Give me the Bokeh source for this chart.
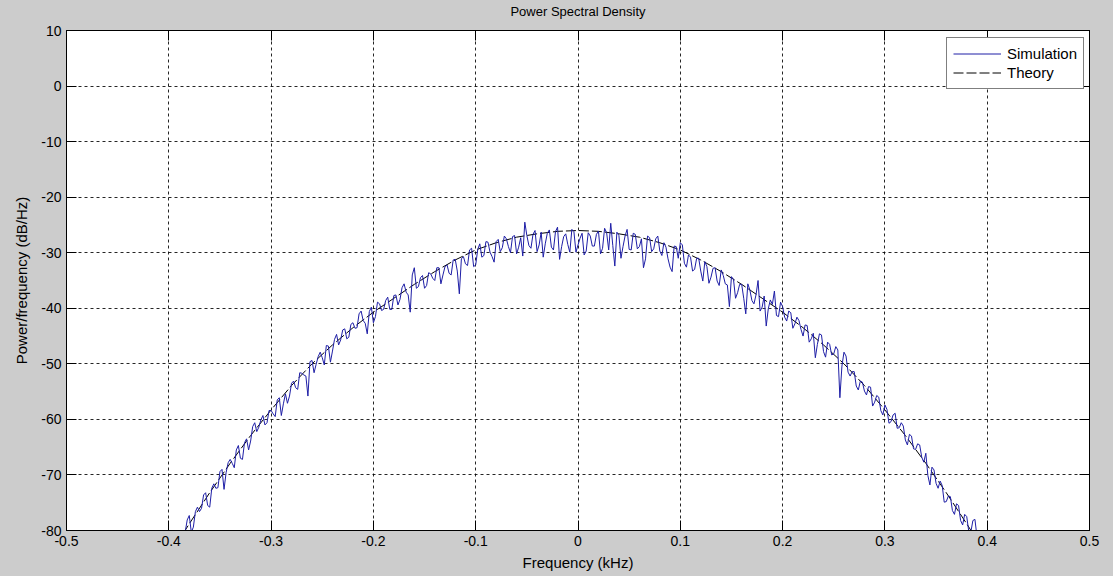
import numpy as np
from bokeh.plotting import figure
from bokeh.models import Range1d, FixedTicker, LinearAxis, Legend, LegendItem
from bokeh.embed import file_html
from bokeh.resources import INLINE

# ---------------- data ----------------
x_ticks = [-0.5, -0.4, -0.3, -0.2, -0.1, 0.0, 0.1, 0.2, 0.3, 0.4, 0.5]
x_tick_labels = ["-0.5", "-0.4", "-0.3", "-0.2", "-0.1", "0", "0.1", "0.2", "0.3", "0.4", "0.5"]
y_ticks = [10, 0, -10, -20, -30, -40, -50, -60, -70, -80]
y_tick_labels = ["10", "0", "-10", "-20", "-30", "-40", "-50", "-60", "-70", "-80"]

# simulated periodogram (dB/Hz); bins every 0.002 kHz, stored as even / odd bins
sim_f_start = -0.388
sim_f_step = 0.002
sim_db_even = [  # at -0.388, -0.384, ... (every 0.004)
    -80.2, -80.3, -77.3, -79.4, -75.8, -76.0, -73.2, -75.8, -71.6, -72.3,
    -69.0, -69.6, -67.2, -68.7, -64.7, -67.2, -63.5, -63.9, -60.6, -61.4,
    -59.3, -60.6, -58.4, -59.5, -56.1, -57.2, -57.1, -53.5, -54.3, -51.6,
    -52.0, -55.8, -49.4, -50.1, -47.9, -50.2, -46.8, -47.7, -44.7, -45.7,
    -43.7, -45.2, -42.6, -43.5, -40.5, -42.7, -40.6, -42.6, -38.9, -40.4,
    -38.6, -40.2, -37.7, -39.4, -36.3, -37.1, -40.7, -32.7, -36.1, -34.1,
    -35.9, -33.8, -35.0, -32.7, -34.0, -32.2, -34.0, -31.2, -37.4, -30.7,
    -32.3, -29.2, -32.2, -28.4, -30.5, -28.1, -30.7, -28.0, -29.8, -27.0,
    -28.9, -27.1, -30.2, -27.3, -24.5, -28.7, -26.7, -29.8, -26.3, -28.4,
    -25.9, -29.5, -25.4, -28.9, -26.6, -29.9, -26.2, -28.6, -26.5, -29.7,
    -27.0, -28.8, -26.1, -29.2, -26.4, -24.7, -32.4, -26.9, -28.9, -25.8,
    -29.5, -26.7, -28.9, -32.7, -27.0, -29.8, -27.5, -29.7, -28.2, -31.1,
    -33.4, -28.9, -28.2, -31.9, -30.4, -33.3, -31.0, -33.3, -31.6, -35.5,
    -32.8, -35.1, -33.1, -35.6, -39.7, -34.8, -37.2, -35.7, -41.0, -36.7,
    -39.2, -35.0, -39.8, -43.2, -38.5, -36.9, -41.5, -39.7, -42.3, -40.8,
    -42.8, -42.2, -45.0, -43.1, -45.5, -48.9, -44.6, -47.8, -46.1, -48.4,
    -46.9, -56.1, -47.9, -51.5, -51.4, -54.0, -53.1, -54.9, -54.1, -57.6,
    -55.7, -58.4, -57.4, -60.7, -59.2, -61.6, -60.6, -63.7, -62.7, -65.3,
    -64.4, -66.8, -66.1, -71.8, -69.1, -72.4, -71.9, -74.8, -73.9, -77.1,
    -75.5, -79.0, -77.5, -80.3, -78.0, -81.3,
]
sim_db_odd = [  # at -0.386, -0.382, ... (every 0.004)
    -81.0, -78.1, -80.3, -76.6, -76.6, -73.6, -75.5, -72.4, -72.4, -69.4,
    -72.6, -67.8, -67.9, -65.5, -67.0, -64.2, -65.5, -61.3, -62.2, -60.1,
    -61.0, -58.4, -59.0, -56.5, -59.3, -55.4, -55.8, -53.1, -54.6, -51.7,
    -52.2, -49.6, -51.6, -48.7, -48.9, -46.7, -49.7, -45.6, -46.6, -43.9,
    -45.5, -42.9, -43.6, -41.0, -42.2, -44.6, -39.8, -41.5, -39.2, -40.2,
    -38.0, -40.2, -37.6, -38.4, -35.6, -37.6, -34.0, -36.4, -34.5, -36.4,
    -33.6, -34.6, -32.7, -35.6, -32.5, -33.7, -31.3, -33.3, -31.1, -32.0,
    -29.5, -32.5, -29.4, -30.8, -28.0, -29.9, -31.7, -27.6, -29.1, -27.5,
    -30.0, -26.9, -29.0, -30.6, -26.9, -29.2, -26.0, -28.6, -30.8, -26.5,
    -29.0, -26.2, -31.2, -27.1, -28.5, -25.8, -29.9, -27.4, -30.4, -26.4,
    -28.8, -26.7, -30.2, -25.6, -29.5, -28.7, -26.3, -31.0, -27.0, -29.4,
    -26.5, -29.3, -27.5, -31.1, -27.3, -29.3, -27.0, -30.5, -29.0, -32.6,
    -28.8, -31.0, -28.6, -32.6, -30.8, -33.0, -31.0, -35.1, -32.5, -34.4,
    -32.7, -35.9, -34.1, -35.8, -34.3, -38.2, -35.7, -38.2, -35.6, -38.6,
    -37.6, -40.5, -37.8, -40.1, -39.3, -41.3, -38.9, -41.6, -40.5, -43.6,
    -41.6, -43.8, -43.0, -46.1, -44.5, -46.5, -44.8, -48.8, -46.5, -48.2,
    -47.5, -50.4, -48.6, -52.2, -51.4, -54.7, -53.3, -55.6, -54.2, -56.9,
    -56.0, -59.2, -58.2, -60.4, -58.9, -61.5, -61.2, -64.6, -63.0, -65.4,
    -64.6, -67.7, -70.1, -68.6, -71.5, -71.1, -74.9, -73.8, -76.4, -75.2,
    -78.2, -77.1, -80.2, -78.2, -81.1,
]
sim_db = [None] * (len(sim_db_even) + len(sim_db_odd))
sim_db[0::2] = sim_db_even
sim_db[1::2] = sim_db_odd
sim_f = np.round(sim_f_start + sim_f_step * np.arange(len(sim_db)), 4)

# theoretical PSD (dB/Hz)
theory_f = [-0.40, -0.38, -0.36, -0.34, -0.32, -0.30, -0.28, -0.26, -0.24, -0.22,
            -0.20, -0.18, -0.16, -0.14, -0.12, -0.10, -0.08, -0.06, -0.04, -0.02,
            0.00, 0.02, 0.04, 0.06, 0.08, 0.10, 0.12, 0.14, 0.16, 0.18,
            0.20, 0.22, 0.24, 0.26, 0.28, 0.30, 0.32, 0.34, 0.36, 0.38, 0.40]
theory_db = [-84.6, -78.8, -73.2, -67.9, -62.9, -58.3, -53.9, -50.0, -46.6, -43.5,
             -40.7, -38.2, -35.7, -33.4, -31.3, -29.5, -28.2, -27.2, -26.6, -26.15,
             -26.0, -26.15, -26.6, -27.2, -28.2, -29.5, -31.3, -33.4, -35.7, -38.2,
             -40.7, -43.5, -46.6, -50.0, -53.9, -58.3, -62.9, -67.9, -73.2, -78.8, -84.6]

title_text = "Power Spectral Density"

# ---------------- figure ----------------
FONT = "Liberation Sans"
BG = "#cccccc"

p = figure(frame_width=1023, frame_height=500,
           x_range=Range1d(-0.5, 0.5), y_range=Range1d(-80, 10),
           output_backend="svg", toolbar_location=None, title=None,
           min_border_left=66, min_border_right=24, min_border_top=30, min_border_bottom=46,
           background_fill_color="white", border_fill_color=BG)

p.outline_line_color = "black"
p.outline_line_width = 1

TICK = 10
for ax in (p.xaxis[0], p.yaxis[0]):
    ax.major_tick_in = TICK
    ax.major_tick_out = 0
    ax.minor_tick_line_color = None
    ax.axis_line_color = "black"
    ax.major_tick_line_color = "black"
    ax.major_label_text_font = FONT
    ax.major_label_text_font_size = "14px"
    ax.major_label_text_color = "black"
    ax.axis_label_text_font = FONT
    ax.axis_label_text_font_size = "15px"
    ax.axis_label_text_font_style = "normal"
    ax.axis_label_text_color = "black"

p.xaxis.ticker = FixedTicker(ticks=x_ticks)
p.xaxis.major_label_overrides = {t: s for t, s in zip(x_ticks, x_tick_labels)}
p.xaxis.axis_label = "Frequency (kHz)"
p.xaxis.major_label_standoff = 5
p.xaxis.axis_label_standoff = 5

p.yaxis.ticker = FixedTicker(ticks=y_ticks)
p.yaxis.major_label_overrides = {t: s for t, s in zip(y_ticks, y_tick_labels)}
p.yaxis.axis_label = "Power/frequency (dB/Hz)"
p.yaxis.major_label_standoff = 5
p.yaxis.axis_label_standoff = 8

# mirrored tick axes (box style, no tick labels); the top one carries the title text
ax_r = LinearAxis(ticker=FixedTicker(ticks=y_ticks), major_label_text_font_size="0px",
                  major_label_text_color=None,
                  major_tick_in=TICK, major_tick_out=0, minor_tick_line_color=None,
                  major_label_standoff=0, axis_line_color="black")
ax_t = LinearAxis(ticker=FixedTicker(ticks=x_ticks), major_label_text_font_size="0px",
                  major_label_text_color=None,
                  major_tick_in=TICK, major_tick_out=0, minor_tick_line_color=None,
                  major_label_standoff=0, axis_line_color="black",
                  axis_label=title_text, axis_label_standoff=12,
                  axis_label_text_font=FONT, axis_label_text_font_size="13px",
                  axis_label_text_font_style="normal", axis_label_text_color="black")
p.add_layout(ax_r, "right")
p.add_layout(ax_t, "above")

# grid
p.xgrid.ticker = FixedTicker(ticks=x_ticks)
p.ygrid.ticker = FixedTicker(ticks=y_ticks)
for g in (p.xgrid[0], p.ygrid[0]):
    g.grid_line_color = "black"
    g.grid_line_alpha = 0.85
    g.grid_line_dash = "3 3"
    g.grid_line_width = 1

# lines (theory drawn first so the noisy simulation covers it on the slopes)
r_th = p.line(theory_f, theory_db, line_color="black", line_width=1, line_dash="10 3")
r_sim = p.line(sim_f, sim_db, line_color="#1e1ea6", line_width=1)

legend = Legend(items=[LegendItem(label="Simulation", renderers=[r_sim]),
                       LegendItem(label="Theory", renderers=[r_th])],
                location=(880, 441))
legend.margin = 0
legend.padding = 6
legend.spacing = 0
legend.border_line_color = "black"
legend.border_line_width = 1
legend.background_fill_color = "white"
legend.background_fill_alpha = 1
legend.label_text_font = FONT
legend.label_text_font_size = "15px"
legend.label_text_color = "black"
legend.glyph_width = 48
legend.glyph_height = 19
legend.label_height = 19
legend.label_standoff = 6
p.add_layout(legend)

html = file_html(p, INLINE, title="Power Spectral Density")
html = html.replace("<body>", '<body style="background:#cccccc">')
open("out.html", "w").write(html)
